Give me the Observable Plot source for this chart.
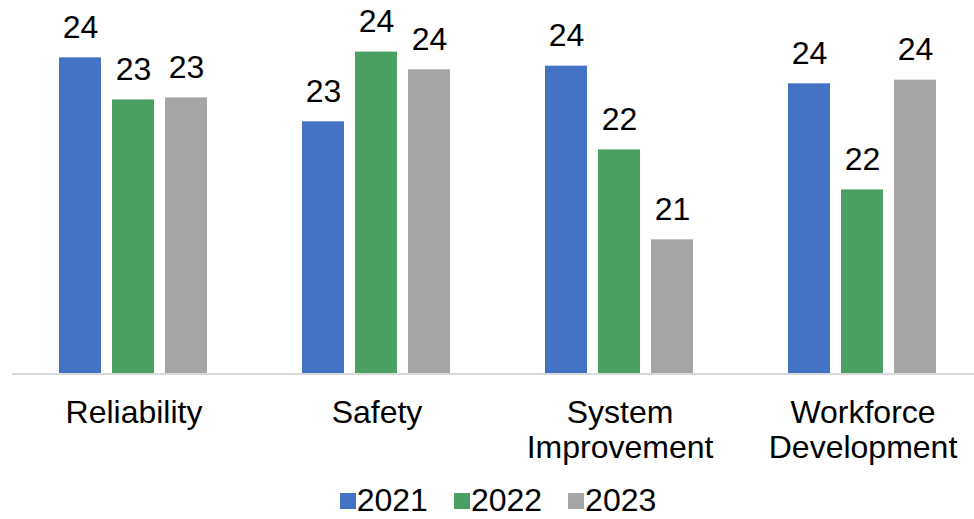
<!DOCTYPE html>
<html>
<head>
<meta charset="utf-8">
<script src="https://cdn.jsdelivr.net/npm/d3@7"></script>
<script src="https://cdn.jsdelivr.net/npm/@observablehq/plot@0.6"></script>
<style>
  html, body { margin: 0; padding: 0; background: #fff; overflow: hidden; }
  #chart { width: 974px; height: 519px; font-family: "Liberation Sans", Arial, sans-serif; }
  .legend { display: flex; justify-content: center; transform: translateX(11px); font-size: 32px; line-height: 31px; color: #000; }
  .legend .item { display: flex; align-items: center; margin: 0 13px; }
  .legend .sw { width: 16px; height: 16px; margin-right: 1px; }
</style>
</head>
<body>
<div id="chart"></div>
<script>
const categories = ["Reliability", "Safety", "System Improvement", "Workforce Development"];
const years = ["2021", "2022", "2023"];
const values2021 = [24.08, 22.85, 23.92, 23.58];
const values2022 = [23.27, 24.19, 22.31, 21.54];
const values2023 = [23.31, 23.85, 20.58, 23.65];
const colors = ["#4472C4", "#4A9F63", "#A5A5A5"];
const axisMin = 18;
const axisMax = 25;

const series = [values2021, values2022, values2023];
const data = [];
categories.forEach((c, i) => {
  years.forEach((y, j) => {
    data.push({category: c, year: y, value: series[j][i]});
  });
});

const plot = Plot.plot({
  width: 974,
  height: 485,
  marginLeft: 5,
  marginRight: 0,
  marginTop: 0,
  marginBottom: 111,
  style: {fontFamily: "Liberation Sans, Arial, sans-serif", fontSize: "32px", color: "#000", background: "#fff"},
  fx: {domain: categories, range: [10, 985], padding: 0, label: null, axis: null},
  x: {domain: years, paddingInner: 0.2037, paddingOuter: 0.861, axis: null},
  y: {domain: [axisMin, axisMax], range: [373.5, 9.5], axis: null},
  color: {domain: years, range: colors},
  marks: [
    Plot.barY(data, {fx: "category", x: "year", y1: axisMin, y2: "value", fill: "year"}),
    Plot.ruleY([axisMin], {stroke: "#d9d9d9", strokeWidth: 2}),
    Plot.text(data, {fx: "category", x: "year", y: "value", text: d => String(Math.round(d.value)),
      lineAnchor: "bottom", dy: -20, fontSize: 32, fill: "#000"}),
    Plot.axisFx({anchor: "bottom", tickSize: 0, tickPadding: 24, fontSize: 32, lineHeight: 1.09, label: null,
      tickFormat: d => d.replace(" ", "\n")})
  ]
});
document.getElementById("chart").appendChild(plot);

const legend = document.createElement("div");
legend.className = "legend";
years.forEach((y, j) => {
  const item = document.createElement("div");
  item.className = "item";
  const sw = document.createElement("span");
  sw.className = "sw";
  sw.style.background = colors[j];
  const t = document.createElement("span");
  t.textContent = y;
  item.appendChild(sw);
  item.appendChild(t);
  legend.appendChild(item);
});
document.getElementById("chart").appendChild(legend);
</script>
</body>
</html>
